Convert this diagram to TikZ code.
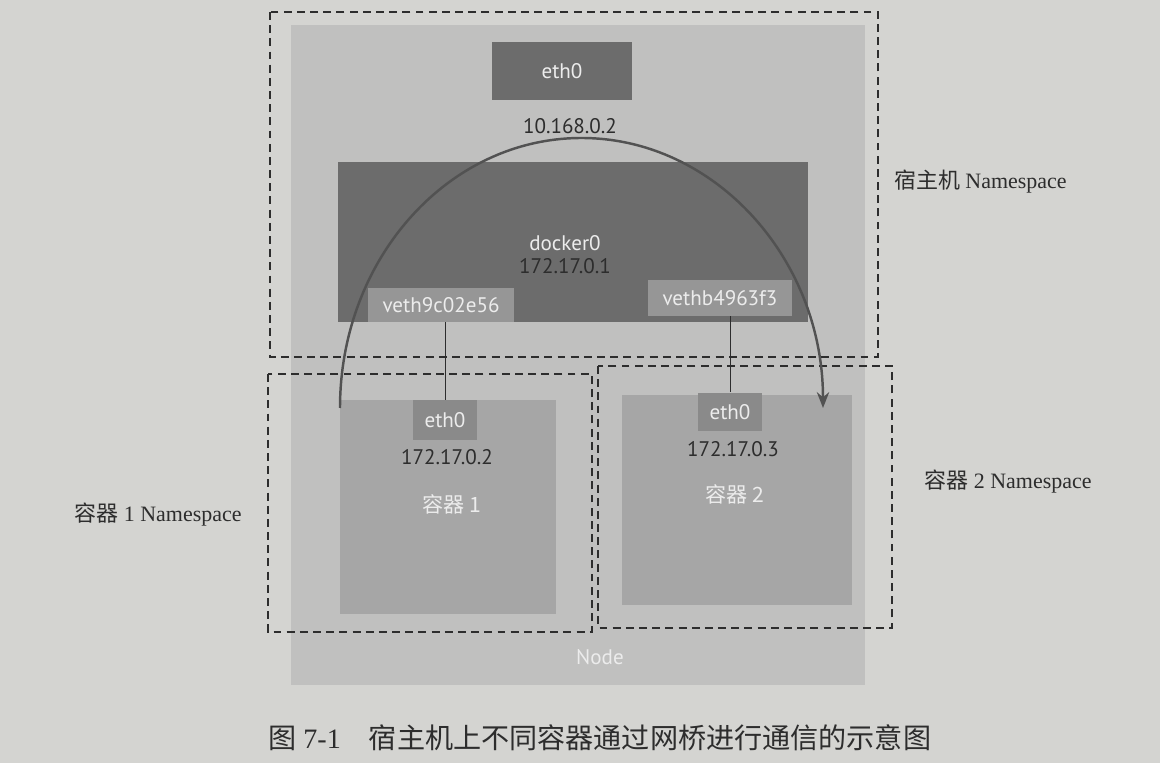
\documentclass[tikz,border=0pt]{standalone}
\usepackage{fontspec}
\setmainfont{Liberation Serif}
\newfontfamily\cjk{Noto Sans CJK SC}
\newfontfamily\boxfont{PT Sans}
\usepackage{xcolor}
\definecolor{pagegray}{RGB}{212,212,209}
\definecolor{nodegray}{RGB}{192,192,191}
\definecolor{darkbox}{RGB}{108,108,108}
\definecolor{vethgray}{RGB}{150,150,150}
\definecolor{ctrgray}{RGB}{166,166,166}
\definecolor{ctreth}{RGB}{138,138,138}
\definecolor{inkgray}{RGB}{45,45,45}
\definecolor{paleink}{RGB}{236,236,236}
\usetikzlibrary{arrows.meta,positioning}

\begin{document}
\begin{tikzpicture}[x=0.02cm, y=-0.02cm,
    darkbox/.style={rectangle, fill=darkbox, inner sep=0pt},
    vethbox/.style={rectangle, fill=vethgray, inner sep=0pt, font=\boxfont\fontsize{12}{14}\selectfont, text=paleink},
    ctrbox/.style={rectangle, fill=ctrgray, inner sep=0pt},
    etheth/.style={rectangle, fill=ctreth, inner sep=0pt, font=\boxfont\fontsize{12}{14}\selectfont, text=paleink},
    iplabel/.style={font=\boxfont\fontsize{12}{14}\selectfont, text=inkgray, inner sep=1pt},
    whitelabel/.style={font=\boxfont\fontsize{12}{14}\selectfont, text=paleink, inner sep=1pt},
    nsline/.style={inkgray, dash pattern=on 4.5pt off 3pt, semithick},
    nslabel/.style={font=\fontsize{12.5}{15}\selectfont, text=inkgray, inner sep=1pt},
    link/.style={inkgray, thin},
    flow/.style={-{Stealth[length=9pt, width=7pt]}, line width=1.4pt, black!68}
  ]
    % page and node background
    \fill[pagegray] (0,0) rectangle (1160,763);
    \node[rectangle, fill=nodegray, minimum width=11.5cm, minimum height=13.2cm] (host) at (578,355) {};
    \node[whitelabel] (nodelbl) at (600,657) {Node};

    % namespaces
    \draw[nsline] (270,12) rectangle (878,357);
    \draw[nsline] (268,374) rectangle (592,632);
    \draw[nsline] (598,366) rectangle (892,628);
    \node[nslabel, anchor=west] (hostns) at (892,182) {{\cjk 宿主机} Namespace};
    \node[nslabel] (ctr1ns) at (158,515) {{\cjk 容器} 1 Namespace};
    \node[nslabel] (ctr2ns) at (1008,482) {{\cjk 容器} 2 Namespace};

    % host side
    \node[darkbox, minimum width=2.8cm, minimum height=1.16cm, font=\boxfont\fontsize{12}{14}\selectfont, text=paleink] (eth0) at (562,71) {eth0};
    \node[iplabel] (hostip) at (570,126) {10.168.0.2};
    \node[darkbox, minimum width=9.4cm, minimum height=3.2cm] (docker0) at (573,242) {};
    \node[whitelabel] (dockername) at (565,243) {docker0};
    \node[iplabel] (dockerip) at (565,266) {172.17.0.1};
    \node[vethbox, minimum width=2.94cm, minimum height=0.68cm] (veth1) at (441,305) {veth9c02e56};
    \node[vethbox, minimum width=2.88cm, minimum height=0.72cm] (veth2) at (720,298) {vethb4963f3};

    % container 1
    \node[ctrbox, minimum width=4.32cm, minimum height=4.3cm] (ctr1) at (448,507) {};
    \node[etheth, minimum width=1.28cm, minimum height=0.8cm] (c1eth) at (445,420) {eth0};
    \node[iplabel] (c1ip) at (447,457) {172.17.0.2};
    \node[whitelabel] (c1name) at (452,504) {\cjk 容器 1};

    % container 2
    \node[ctrbox, minimum width=4.6cm, minimum height=4.22cm] (ctr2) at (737,500) {};
    \node[etheth, minimum width=1.28cm, minimum height=0.78cm] (c2eth) at (730,412) {eth0};
    \node[iplabel] (c2ip) at (733,449) {172.17.0.3};
    \node[whitelabel] (c2name) at (735,494) {\cjk 容器 2};

    % veth pairs
    \draw[link] (veth1.south -| c1eth.north) -- (c1eth.north);
    \draw[link] (veth2.south -| c2eth.north) -- (c2eth.north);

    % traffic from container 1 to container 2
    \coordinate (arcL) at (340,408);
    \draw[flow] (arcL) arc[start angle=180, end angle=360, x radius=241.5, y radius=270];

    % caption
    \node[anchor=west, font=\fontsize{16}{19}\selectfont, text=inkgray] (caption) at (262,738)
      {{\cjk 图} 7-1\quad{\cjk 宿主机上不同容器通过网桥进行通信的示意图}};
\end{tikzpicture}
\end{document}
